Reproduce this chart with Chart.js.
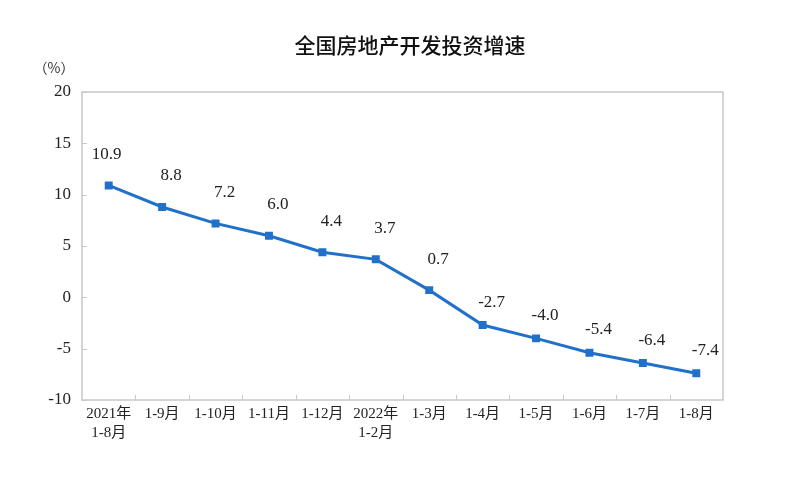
<!DOCTYPE html>
<html><head><meta charset="utf-8">
<script src="https://cdn.jsdelivr.net/npm/chart.js@4/dist/chart.umd.min.js"></script>
<style>html,body{margin:0;padding:0;background:#fff}#wrap{width:787px;height:478px}</style>
</head><body><div id="wrap"><canvas id="c" width="787" height="478"></canvas></div>
<script>
const categories = [["2021年","1-8月"],"1-9月","1-10月","1-11月","1-12月",["2022年","1-2月"],"1-3月","1-4月","1-5月","1-6月","1-7月","1-8月"];
const growth = [10.9, 8.8, 7.2, 6.0, 4.4, 3.7, 0.7, -2.7, -4.0, -5.4, -6.4, -7.4];
const yTicks = [20, 15, 10, 5, 0, -5, -10];
const titleText = "全国房地产开发投资增速";
const unitText = "（%）";

const SERIF = '"Liberation Serif","Noto Sans CJK SC",serif';
const CJK = '"Liberation Serif","Noto Sans CJK SC",serif';

const decor = {
  id: 'decor',
  afterDraw(chart) {
    const ctx = chart.ctx, a = chart.chartArea;
    const xs = chart.scales.x, ys = chart.scales.y;
    ctx.save();
    ctx.strokeStyle = '#c8c8c8'; ctx.lineWidth = 1.5;
    ctx.strokeRect(a.left, a.top, a.right - a.left, a.bottom - a.top);
    ctx.lineWidth = 1;
    yTicks.forEach(v => {
      const y = Math.round(ys.getPixelForValue(v)) + 0.5;
      ctx.beginPath(); ctx.moveTo(a.left, y); ctx.lineTo(a.left + 5, y); ctx.stroke();
    });
    for (let i = 1; i < categories.length; i++) {
      const x = Math.round((xs.getPixelForValue(i - 1) + xs.getPixelForValue(i)) / 2) + 0.5;
      ctx.beginPath(); ctx.moveTo(x, a.bottom); ctx.lineTo(x, a.bottom - 5); ctx.stroke();
    }
    ctx.fillStyle = '#111';
    ctx.font = '500 21px "Noto Sans CJK SC",sans-serif';
    ctx.textAlign = 'center'; ctx.textBaseline = 'middle';
    ctx.fillText(titleText, 410, 45);
    ctx.font = '14px "Noto Sans CJK SC",sans-serif';
    ctx.fillStyle = '#333';
    ctx.fillText(unitText, 54, 68);
    const meta = chart.getDatasetMeta(0);
    ctx.font = '17px ' + SERIF;
    ctx.fillStyle = '#222';
    meta.data.forEach((pt, i) => {
      const off = i < 7 ? 31 : 23;
      ctx.fillText(growth[i].toFixed(1), pt.x + (i === 0 ? -2 : 9), pt.y - off);
    });
    ctx.restore();
  }
};

new Chart(document.getElementById('c'), {
  type: 'line',
  data: {
    labels: categories,
    datasets: [{
      data: growth,
      borderColor: '#2170C9',
      backgroundColor: '#2170C9',
      borderWidth: 3,
      pointStyle: 'rect',
      pointRadius: 3.5,
      pointHoverRadius: 3.5,
      tension: 0
    }]
  },
  options: {
    responsive: false,
    animation: false,
    events: [],
    layout: { padding: { left: 0, top: 92, right: 64, bottom: 0 } },
    plugins: { legend: { display: false }, tooltip: { enabled: false }, title: { display: false } },
    scales: {
      x: {
        offset: true,
        grid: { display: false, drawTicks: false },
        border: { display: false },
        ticks: { color: '#222', font: { family: CJK, size: 15, lineHeight: 1.3 }, padding: 4, maxRotation: 0, autoSkip: false },
        afterFit(s) { s.height = 78; }
      },
      y: {
        min: -10, max: 20,
        grid: { display: false, drawTicks: false },
        border: { display: false },
        ticks: { stepSize: 5, color: '#222', font: { family: SERIF, size: 17 }, padding: 11 },
        afterFit(s) { s.width = 82; }
      }
    }
  },
  plugins: [decor]
});
</script></body></html>
